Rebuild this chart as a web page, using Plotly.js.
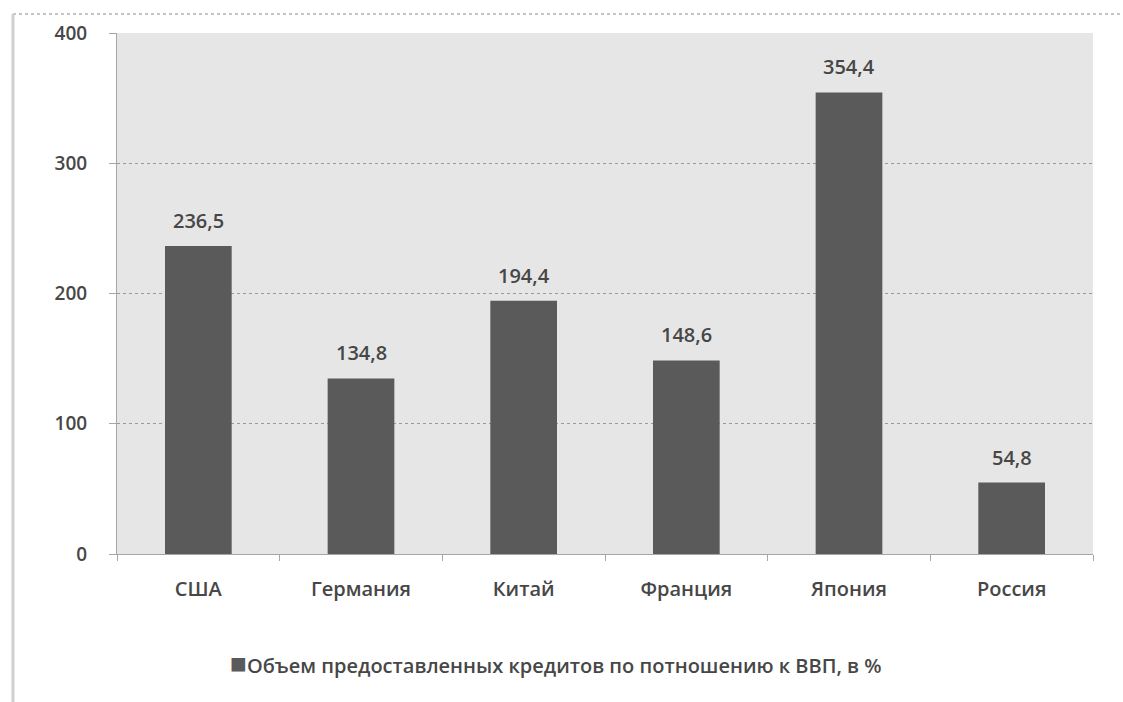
<!DOCTYPE html>
<html>
<head>
<meta charset="utf-8">
<script src="https://cdn.plot.ly/plotly-3.0.1.min.js"></script>
<style>
html,body{margin:0;padding:0;background:#fff;}
#chart{width:1123px;height:702px;}
</style>
</head>
<body>
<div id="chart"></div>
<script>
const categories = ["США", "Германия", "Китай", "Франция", "Япония", "Россия"];
const values = [236.5, 134.8, 194.4, 148.6, 354.4, 54.8];
const valueLabels = ["236,5", "134,8", "194,4", "148,6", "354,4", "54,8"];
const seriesName = "Объем предоставленных кредитов по потношению к ВВП, в %";
const yTicks = [0, 100, 200, 300, 400];

const font = "Open Sans, Noto Sans, sans-serif";
const barColor = "#5a5a5a";
const textColor = "#474747";
const w = 600;

const trace = {
  type: "bar",
  x: categories,
  y: values,
  name: seriesName,
  marker: {color: barColor, line: {width: 0}},
  showlegend: false,
  hoverinfo: "x+y"
};

const annotations = categories.map((c, i) => ({
  x: c, y: values[i], xref: "x", yref: "y",
  text: valueLabels[i], showarrow: false,
  yanchor: "bottom", yshift: 10,
  font: {family: font, size: 20, color: textColor, weight: w}
}));

annotations.push({
  xref: "paper", yref: "paper",
  x: (556 - 117) / 976, y: (554 - 662) / 521,
  xanchor: "center", yanchor: "middle",
  showarrow: false,
  text: '<span style="color:' + barColor + ';font-size:28px">■</span>' + seriesName,
  font: {family: font, size: 20, color: textColor, weight: w}
});

const layout = {
  width: 1123, height: 702,
  margin: {l: 117, r: 30, t: 33, b: 148},
  paper_bgcolor: "#ffffff",
  plot_bgcolor: "#e6e6e6",
  bargap: 0.59,
  showlegend: false,
  font: {family: font, size: 20, color: textColor},
  xaxis: {
    type: "category",
    showline: true, linecolor: "#a6a6a6", linewidth: 1,
    ticks: "outside", tickson: "boundaries", ticklen: 6, tickcolor: "#a6a6a6",
    ticklabelstandoff: 17,
    showgrid: false,
    tickfont: {family: font, size: 20, color: textColor, weight: w}
  },
  yaxis: {
    range: [0, 400],
    tickvals: yTicks,
    ticktext: yTicks.map(String),
    showline: true, linecolor: "#a6a6a6", linewidth: 1,
    ticks: "outside", ticklen: 7, tickcolor: "#a6a6a6",
    ticklabelstandoff: 18,
    showgrid: true, gridcolor: "#9a9a9a", griddash: "dot", gridwidth: 1,
    zeroline: false,
    tickfont: {family: font, size: 19, color: textColor, weight: w}
  },
  annotations: annotations,
  shapes: [
    {type: "line", xref: "paper", yref: "paper", x0: -0.1066, x1: 1.04, y0: 1.0365, y1: 1.0365,
     line: {color: "#b0b0b0", width: 1.5, dash: "dot"}},
    {type: "line", xref: "paper", yref: "paper", x0: -0.1066, x1: -0.1066, y0: 1.0365, y1: -0.3,
     line: {color: "#cfcfcf", width: 3}}
  ]
};

Plotly.newPlot("chart", [trace], layout, {displayModeBar: false, staticPlot: true});
</script>
</body>
</html>
